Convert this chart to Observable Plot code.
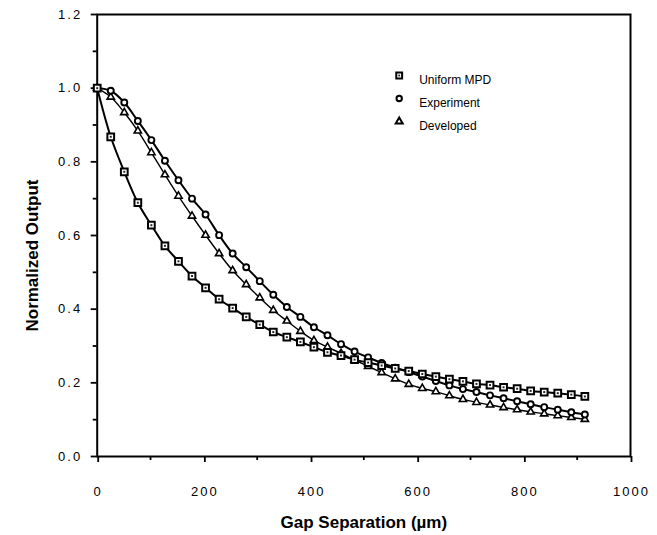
<!DOCTYPE html>
<html><head><meta charset="utf-8">
<script src="https://cdn.jsdelivr.net/npm/d3@7"></script>
<script src="https://cdn.jsdelivr.net/npm/@observablehq/plot@0.6"></script>
<style>
body{margin:0;background:#fff}
[aria-label="x-axis tick label"] text,[aria-label="y-axis tick label"] text{letter-spacing:2px}
</style>
</head><body><div id="chart"></div>
<script>
const gap = [0, 25.4, 50.8, 76.2, 101.6, 127, 152.4, 177.8, 203.2, 228.6, 254, 279.4, 304.8, 330.2, 355.6, 381, 406.4, 431.8, 457.2, 482.6, 508, 533.4, 558.8, 584.2, 609.6, 635, 660.4, 685.8, 711.2, 736.6, 762, 787.4, 812.8, 838.2, 863.6, 889, 914.4];
const uniformMPD = [1.000, 0.868, 0.773, 0.689, 0.628, 0.572, 0.530, 0.490, 0.458, 0.427, 0.403, 0.379, 0.358, 0.338, 0.324, 0.311, 0.297, 0.283, 0.274, 0.263, 0.255, 0.247, 0.239, 0.232, 0.224, 0.217, 0.210, 0.204, 0.197, 0.194, 0.188, 0.184, 0.178, 0.175, 0.172, 0.168, 0.163];
const experiment = [1.000, 0.993, 0.961, 0.911, 0.859, 0.803, 0.750, 0.700, 0.657, 0.601, 0.551, 0.514, 0.476, 0.439, 0.406, 0.379, 0.351, 0.329, 0.305, 0.285, 0.269, 0.254, 0.241, 0.229, 0.217, 0.205, 0.193, 0.183, 0.175, 0.166, 0.158, 0.150, 0.142, 0.134, 0.127, 0.120, 0.114];
const developed = [1.000, 0.976, 0.934, 0.884, 0.825, 0.765, 0.707, 0.653, 0.601, 0.551, 0.505, 0.467, 0.431, 0.397, 0.368, 0.340, 0.315, 0.297, 0.280, 0.262, 0.245, 0.228, 0.211, 0.196, 0.185, 0.176, 0.165, 0.155, 0.147, 0.140, 0.133, 0.127, 0.121, 0.116, 0.111, 0.106, 0.101];
const seriesNames = ["Uniform MPD", "Experiment", "Developed"];
const xTicks = [0, 200, 400, 600, 800, 1000];
const xMinorTicks = [100, 300, 500, 700, 900];
const yTicks = [0, 0.2, 0.4, 0.6, 0.8, 1.0, 1.2];
const yMinorTicks = [0.1, 0.3, 0.5, 0.7, 0.9, 1.1];
const xTitle = "Gap Separation (\u00b5m)";
const yTitle = "Normalized Output";

const rows = (vals) => gap.map((g, i) => ({gap: g, value: vals[i]}));
const U = rows(uniformMPD), E = rows(experiment), D = rows(developed);
const font = "Liberation Sans, Arial, Helvetica, sans-serif";

const legendSym = ["square", "circle", "triangle"];
const legendR = [3.3, 2.7, 2.6];
const legendMarks = seriesNames.flatMap((name, i) => [
  Plot.dot([name], {frameAnchor: "top-left", dx: 302, dy: 61 + i * 23, symbol: legendSym[i], r: legendR[i], fill: "white", stroke: "black", strokeWidth: 2}),
  ...(i === 0 ? [Plot.dot([name], {frameAnchor: "top-left", dx: 302, dy: 61, symbol: "square", r: 1, fill: "#222"})] : []),
  Plot.text([name], {frameAnchor: "top-left", dx: 322, dy: 61 + i * 23, text: d => d, textAnchor: "start", fontSize: 12, fill: "black"})
]);

const chart = Plot.plot({
  width: 657, height: 535,
  marginLeft: 96.7, marginRight: 27, marginTop: 14, marginBottom: 79,
  style: {fontFamily: font, fontSize: "13px", color: "black", background: "white"},
  x: {domain: [0, 1000]},
  y: {domain: [0, 1.2]},
  marks: [
    Plot.axisX({ticks: xTicks, tickSize: 6, tickPadding: 24, tickFormat: d => String(d), label: null, strokeWidth: 1.8, fontSize: 13, dx: 1}),
    Plot.axisX({ticks: xMinorTicks, tickSize: 4, tickFormat: () => "", label: null, strokeWidth: 1.8}),
    Plot.axisY({ticks: yTicks, tickSize: 6, tickPadding: 9, tickFormat: d3.format(".1f"), label: null, strokeWidth: 1.8, fontSize: 13}),
    Plot.axisY({ticks: yMinorTicks, tickSize: 4, tickFormat: () => "", label: null, strokeWidth: 1.8}),
    Plot.frame({stroke: "black", strokeWidth: 2}),
    Plot.line(D, {x: "gap", y: "value", curve: "catmull-rom", stroke: "black", strokeWidth: 1.4}),
    Plot.line(E, {x: "gap", y: "value", curve: "catmull-rom", stroke: "black", strokeWidth: 2}),
    Plot.line(U, {x: "gap", y: "value", curve: "catmull-rom", stroke: "black", strokeWidth: 2}),
    Plot.dot(D, {x: "gap", y: "value", symbol: "triangle", r: 2.7, fill: "white", stroke: "black", strokeWidth: 1.6}),
    Plot.dot(E, {x: "gap", y: "value", symbol: "circle", r: 3, fill: "white", stroke: "black", strokeWidth: 1.9}),
    Plot.dot(U, {x: "gap", y: "value", symbol: "square", r: 3.8, fill: "white", stroke: "black", strokeWidth: 2}),
    Plot.dot(U, {x: "gap", y: "value", symbol: "square", r: 1.1, fill: "#222"}),
    ...legendMarks,
    Plot.text([xTitle], {frameAnchor: "bottom", dy: 71, text: d => d, fontSize: 17, fontWeight: "bold", fill: "black"}),
    Plot.text([yTitle], {frameAnchor: "left", dx: -65, dy: 20, rotate: -90, textAnchor: "middle", text: d => d, fontSize: 17, fontWeight: "bold", fill: "black"})
  ]
});
document.getElementById("chart").appendChild(chart);
</script>
</body></html>
